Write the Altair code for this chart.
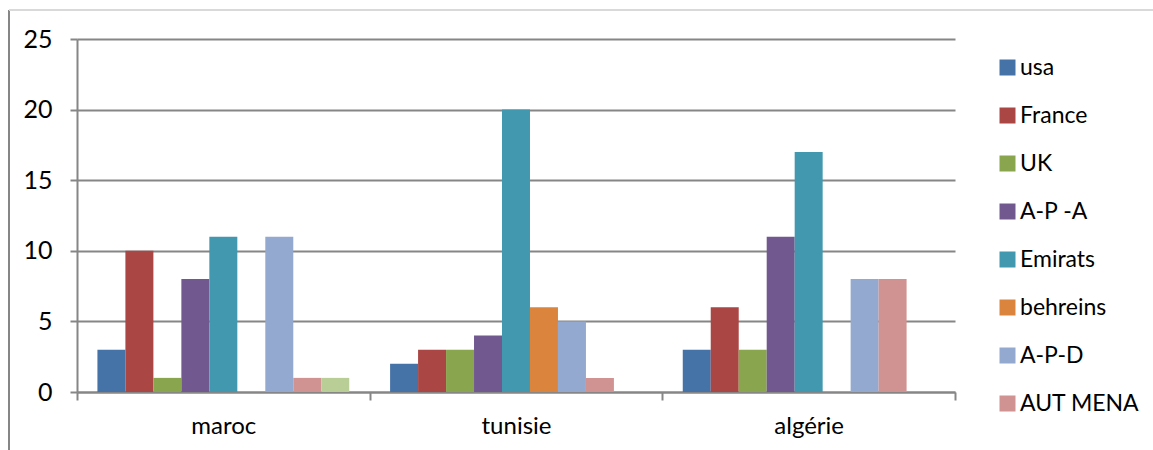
import altair as alt
import pandas as pd

# Countries on the x axis
countries = ["maroc", "tunisie", "algérie"]

# Series (the last one has no entry in the legend)
series = ["usa", "France", "UK", "A-P -A", "Emirats", "behreins", "A-P-D", "AUT MENA", "Autres"]
colors = ["#4572A7", "#AA4643", "#89A54E", "#71588F", "#4198AF", "#DB843D", "#93A9CF", "#D19392", "#B9CD96"]

# Values per series, one entry per country
usa = [3, 2, 3]
france = [10, 3, 6]
uk = [1, 3, 3]
apa = [8, 4, 11]
emirats = [11, 20, 17]
behreins = [0, 6, 0]
apd = [11, 5, 8]
aut_mena = [1, 1, 8]
autres = [1, 0, 0]

values = [usa, france, uk, apa, emirats, behreins, apd, aut_mena, autres]

rows = []
for name, vals in zip(series, values):
    for country, v in zip(countries, vals):
        rows.append({"pays": country, "serie": name, "valeur": v})
df = pd.DataFrame(rows)

FONT = "Lato"
GRID = "#868686"

bars = alt.Chart(df).mark_bar().encode(
    x=alt.X("pays:N", sort=countries, title=None,
            scale=alt.Scale(paddingInner=0, paddingOuter=0),
            axis=alt.Axis(labelAngle=0, tickBand="extent", tickSize=8, tickColor=GRID,
                          tickWidth=2, domainColor=GRID, domainWidth=2,
                          labelFont=FONT, labelFontSize=24, labelColor="black",
                          labelPadding=14, grid=False)),
    xOffset=alt.XOffset("serie:N", sort=series,
                        scale=alt.Scale(paddingInner=0, paddingOuter=0.73)),
    y=alt.Y("valeur:Q", title=None,
            scale=alt.Scale(domain=[0, 25], nice=False),
            axis=alt.Axis(values=[0, 5, 10, 15, 20, 25], tickSize=7, tickColor=GRID,
                          tickWidth=2, domainColor=GRID, domainWidth=2,
                          gridColor=GRID, gridWidth=2,
                          labelFont=FONT, labelFontSize=25, labelColor="black",
                          labelPadding=18)),
    color=alt.Color("serie:N", sort=series,
                    scale=alt.Scale(domain=series, range=colors),
                    legend=alt.Legend(values=series[:8], title=None, orient="none",
                                      legendX=919, legendY=17,
                                      symbolType="square", symbolSize=256,
                                      symbolStrokeWidth=0, symbolOpacity=1,
                                      labelFont=FONT, labelFontSize=23,
                                      labelColor="black", labelOffset=1,
                                      rowPadding=24, labelLimit=300)),
)

# Outer frame of the chart
frame_left = alt.Chart(df).mark_rule(color="#868686", strokeWidth=1.5).encode(
    x=alt.value(-68), y=alt.value(-29), y2=alt.value(430))
frame_top = alt.Chart(df).mark_rule(color="#D9D9D9", strokeWidth=1.5).encode(
    x=alt.value(-68), x2=alt.value(1090), y=alt.value(-29))

chart = alt.layer(bars, frame_left, frame_top).properties(
    width=878, height=353,
    padding={"left": 77, "top": 39, "right": 198, "bottom": 58},
    autosize=alt.AutoSizeParams(type="none"),
    background="white",
).configure_view(stroke=None)

chart.save("out.html", embed_options={"renderer": "svg", "actions": False})
